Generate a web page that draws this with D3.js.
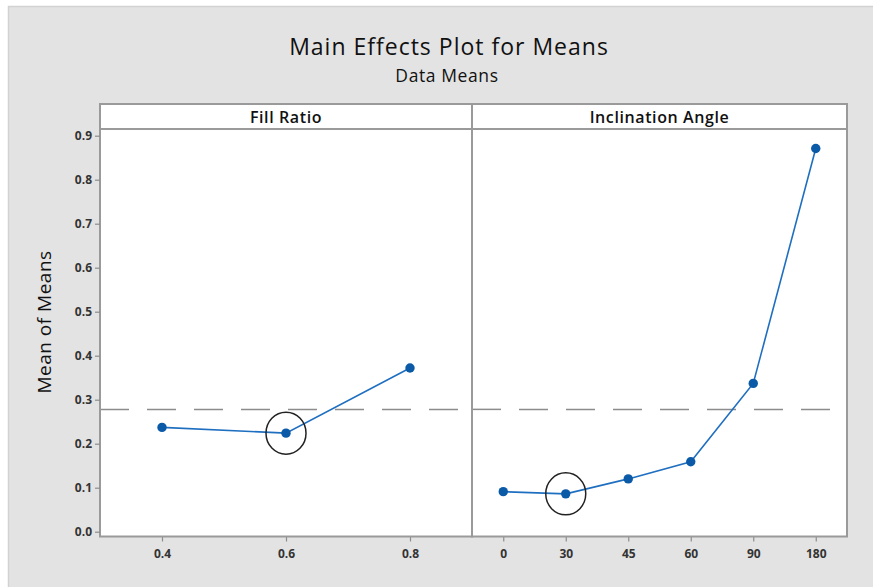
<!DOCTYPE html>
<html><head><meta charset="utf-8">
<script src="https://cdn.jsdelivr.net/npm/d3@7"></script>
<style>body{margin:0;background:#fff}svg{display:block}</style>
</head><body>
<svg id="c" width="873" height="587"></svg>
<script>
const fillLevels = ["0.4", "0.6", "0.8"];
const fillMeans = [0.237, 0.224, 0.372];
const angleLevels = ["0", "30", "45", "60", "90", "180"];
const angleMeans = [0.091, 0.086, 0.120, 0.159, 0.337, 0.871];
const grandMean = 0.278;
const yTicks = [0.0, 0.1, 0.2, 0.3, 0.4, 0.5, 0.6, 0.7, 0.8, 0.9];
const panelTitles = ["Fill Ratio", "Inclination Angle"];
const circled = [{panel: 0, level: "0.6"}, {panel: 1, level: "30"}];

const svg = d3.select("#c");
const FONT = "'Open Sans', sans-serif";
svg.append("rect").attr("x", 8.5).attr("y", 6.5).attr("width", 880).attr("height", 600)
  .attr("fill", "#e3e3e3").attr("stroke", "#d2d2d2").attr("stroke-width", 1.5);

const plotTop = 129, plotBottom = 536.5, stripTop = 104;
const y = d3.scaleLinear().domain([0, 0.9]).range([531.7, 135.7]);

svg.append("text").attr("x", 449).attr("y", 55).attr("text-anchor", "middle")
  .attr("font-family", FONT).attr("font-size", 23).attr("letter-spacing", 1).attr("fill", "#111")
  .text("Main Effects Plot for Means");
svg.append("text").attr("x", 447).attr("y", 82).attr("text-anchor", "middle")
  .attr("font-family", FONT).attr("font-size", 17.5).attr("letter-spacing", 0.6).attr("fill", "#111").text("Data Means");
svg.append("text").attr("transform", "translate(51,322) rotate(-90)").attr("text-anchor", "middle")
  .attr("font-family", FONT).attr("font-size", 19).attr("letter-spacing", 0.5).attr("fill", "#111").text("Mean of Means");

const panels = [
  {x0: 100, x1: 472, levels: fillLevels, means: fillMeans},
  {x0: 472, x1: 847, levels: angleLevels, means: angleMeans}
];

panels.forEach((p, i) => {
  const g = svg.append("g");
  g.append("rect").attr("x", p.x0).attr("y", stripTop).attr("width", p.x1 - p.x0).attr("height", plotBottom - stripTop)
    .attr("fill", "#fff");
  const x = d3.scalePoint().domain(p.levels).range([p.x0, p.x1]).padding(0.5);
  g.append("line").attr("x1", p.x0).attr("x2", p.x1).attr("y1", y(grandMean)).attr("y2", y(grandMean))
    .attr("stroke", "#8c8c8c").attr("stroke-width", 1.5).attr("stroke-dasharray", "29,18");
  const data = p.levels.map((l, k) => ({l, v: p.means[k]}));
  g.append("path").datum(data).attr("fill", "none").attr("stroke", "#1f6fc1").attr("stroke-width", 1.6)
    .attr("d", d3.line().x(d => x(d.l)).y(d => y(d.v)));
  g.selectAll("circle.pt").data(data).enter().append("circle").attr("class", "pt")
    .attr("cx", d => x(d.l)).attr("cy", d => y(d.v)).attr("r", 4.7).attr("fill", "#0b5aa8");
  circled.filter(c => c.panel === i).forEach(c => {
    const k = p.levels.indexOf(c.level);
    g.append("ellipse").attr("cx", x(c.level)).attr("cy", y(p.means[k]))
      .attr("rx", 20).attr("ry", 21).attr("fill", "none").attr("stroke", "#222").attr("stroke-width", 1.5);
  });
  const ax = g.append("g").attr("transform", `translate(0,${plotBottom})`)
    .call(d3.axisBottom(x).tickSize(5).tickSizeOuter(0));
  ax.select(".domain").remove();
  ax.selectAll("line").attr("stroke", "#8c8c8c").attr("stroke-width", 1.2);
  ax.selectAll("text").attr("font-family", FONT).attr("font-size", 12).attr("font-weight", "bold")
    .attr("fill", "#333").attr("dy", "1.15em");
  g.append("rect").attr("x", p.x0).attr("y", stripTop).attr("width", p.x1 - p.x0).attr("height", plotTop - stripTop)
    .attr("fill", "#fff").attr("stroke", "#9a9a9a").attr("stroke-width", 2);
  g.append("text").attr("x", (p.x0 + p.x1) / 2).attr("y", 123).attr("text-anchor", "middle")
    .attr("font-family", FONT).attr("font-size", 16).attr("letter-spacing", 0.6).attr("font-weight", 600)
    .attr("fill", "#111").text(panelTitles[i]);
  g.append("rect").attr("x", p.x0).attr("y", stripTop).attr("width", p.x1 - p.x0).attr("height", plotBottom - stripTop)
    .attr("fill", "none").attr("stroke", "#9a9a9a").attr("stroke-width", 2);
});

const ay = svg.append("g").attr("transform", "translate(100,0)")
  .call(d3.axisLeft(y).tickValues(yTicks).tickFormat(d3.format(".1f")).tickSize(5).tickSizeOuter(0));
ay.select(".domain").remove();
ay.selectAll("line").attr("stroke", "#8c8c8c").attr("stroke-width", 1.2);
ay.selectAll("text").attr("font-family", FONT).attr("font-size", 12).attr("font-weight", "bold").attr("fill", "#333");
</script>
</body></html>
